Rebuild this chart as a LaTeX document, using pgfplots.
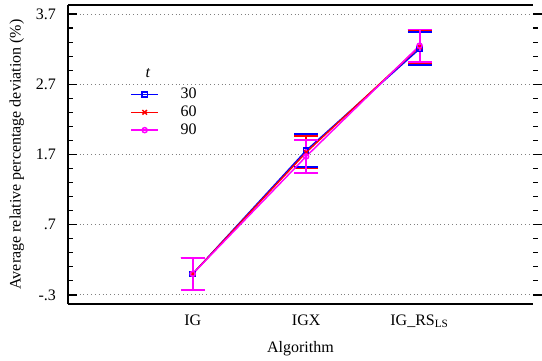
\documentclass[border=0pt]{standalone}
\usepackage{fontspec}
\setmainfont{Liberation Serif}
\usepackage{pgfplots}
\pgfplotsset{compat=1.18}
\definecolor{cblue}{RGB}{0,0,255}
\definecolor{cred}{RGB}{255,0,0}
\definecolor{cmag}{RGB}{255,0,255}
\begin{document}
\begin{tikzpicture}
\pgfplotsset{common/.style={width=290.6pt,height=186.9pt,scale only axis,
  xmin=-0.1,xmax=4,ymin=-0.43,ymax=3.83,
  ytick={-0.3,0.7,1.7,2.7,3.7}, minor y tick num=4,
  major tick length=5.6pt, minor tick length=3pt,
  every tick/.style={black, line width=0.8pt},
  axis line style={line width=0.8pt},
  /pgf/number format/assume math mode=true}}
\begin{axis}[common,
  axis x line*=box, axis y line*=left, tick align=inside,
  xtick={1,2,3}, xticklabels={IG,IGX,IG\_RS\textsubscript{LS}},
  x tick style={draw=none},
  yticklabels={\textrm{-.3},\textrm{.7},\textrm{1.7},\textrm{2.7},\textrm{3.7}},
  yticklabel style={xshift=-4pt},
  xticklabel style={yshift=-3pt},
  ymajorgrids, major grid style={gray, dotted, line width=0.6pt},
  xlabel={Algorithm}, ylabel={Average relative percentage deviation (\%)},
  xlabel style={at={(axis description cs:0.5,-0.15)}, anchor=center},
  ylabel style={at={(axis description cs:-0.11,0.5)}, anchor=center},
  legend style={at={(axis description cs:0.123,0.745)}, anchor=north west, draw=none, fill=none, row sep=-1pt, column sep=6pt, nodes={inner sep=2pt}},
  legend cell align=left,
  error bars/error bar style={line width=1.2pt, solid},
  error bars/error mark options={rotate=90, mark size=7.5pt, line width=1.2pt, solid},
]
\coordinate (bl) at (rel axis cs:0,0);
\addplot+[cblue, line width=0.9pt, mark=square, mark size=1.6pt, mark options={solid, cblue, fill=none},
  error bars/.cd, y dir=both, y explicit]
  coordinates {(1,0.0) +- (0,0.225) (2,1.756) +- (0,0.23) (3,3.205) +- (0,0.235)};
\addlegendentry{\hspace{5.5pt}30}
\addplot+[cred, line width=0.9pt, mark=x, mark size=2pt, mark options={solid, cred},
  error bars/.cd, y dir=both, y explicit]
  coordinates {(1,0.0) +- (0,0.225) (2,1.73) +- (0,0.23) (3,3.235) +- (0,0.235)};
\addlegendentry{\hspace{5.5pt}60}
\addplot+[cmag, line width=0.9pt, mark=o, mark size=1.6pt, mark options={solid, cmag, fill=none},
  error bars/.cd, y dir=both, y explicit]
  coordinates {(1,0.0) +- (0,0.225) (2,1.672) +- (0,0.232) (3,3.25) +- (0,0.23)};
\addlegendentry{\hspace{5.5pt}90}
\node[font=\itshape] at (axis description cs:0.172,0.773) {t};
\end{axis}
\begin{axis}[common, axis x line=none, axis y line*=right, tick align=outside,
  y axis line style={draw=none}, yticklabels={}]
\end{axis}
\pgfresetboundingbox
\path (bl) ++(-42.5pt,-35.6pt) rectangle ++(338.75pt,225.6pt);
\end{tikzpicture}
\end{document}
